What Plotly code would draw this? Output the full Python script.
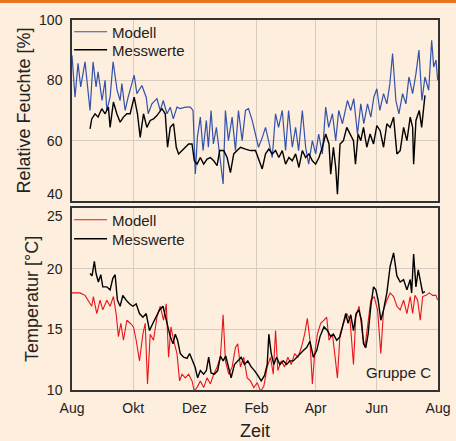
import plotly.graph_objects as go
import pandas as pd

START = pd.Timestamp("2005-08-01")

# ---- Relative Feuchte: Modell (day offset, %)
rh_mod_day = [0, 3, 6, 8.7, 13, 16, 18, 21, 24, 26, 30, 33, 34.7, 38, 41, 45, 48, 49.7, 53, 56, 62, 64.7,
              69.7, 74, 76, 79.7, 84.7, 88, 91, 94.7, 98, 101, 104.7, 108, 113, 118, 120.7, 123, 125, 128,
              130.7, 134, 136, 138.7, 141, 144, 147, 150.7, 153, 156, 159.7, 163, 166, 169.7, 173, 176,
              179.7, 183, 186, 189.7, 193, 196, 199.7, 203, 206, 209.7, 213, 216, 219.7, 223, 226, 229.7,
              233, 236, 239.7, 243, 246, 249.7, 253, 256, 259.7, 263, 266, 269.7, 274.7, 278, 281, 284.7,
              288, 291, 294.7, 298, 301, 304, 307, 310.7, 314, 317, 319.7, 323, 326, 329.7, 333, 336,
              339.7, 343, 346, 349, 352, 355.7, 358.7, 360.7, 363, 364.7]
rh_mod_val = [88.3, 74.4, 85.6, 77.8, 86.1, 76.7, 70, 86.1, 77.8, 82.8, 73.3, 80, 70, 74.4, 86.1, 76.7, 73.3,
              78.9, 70, 74.4, 81.7, 75.6, 78.3, 74.4, 68.9, 72.2, 73.9, 70, 73.3, 68.9, 71.1, 67.2, 71.1,
              70.6, 71.1, 71.1, 70, 48.9, 61, 67.8, 56.7, 66.7, 57.8, 70, 58.9, 64.4, 55.6, 45.6, 70, 60,
              67.8, 56.7, 70, 60, 70, 70.6, 66.7, 62.2, 57.8, 61, 64.4, 60, 54.4, 68.9, 64.4, 70, 56.7, 70,
              57.8, 64.4, 56.7, 70, 57.8, 52.2, 60, 55.6, 62.2, 55.6, 71.1, 64.4, 68.9, 60, 70, 65.6, 73.3,
              70, 73.9, 62.2, 72.2, 65.6, 72.2, 67.8, 74.4, 77.2, 70, 75.6, 72.2, 78.9, 88.9, 73.3, 68.9,
              75.6, 72.2, 81.1, 75.6, 82.2, 90, 73.3, 81.1, 76.7, 93.3, 84.4, 86.7, 80]

# ---- Relative Feuchte: Messwerte
rh_mes_day = [18, 19.7, 23, 26, 29.7, 33, 36.3, 38, 41.3, 44.7, 48, 51.3, 54.7, 58, 62, 65.3, 68, 71.3, 74.7,
              78, 81.3, 84.7, 89.7, 93, 95.3, 98, 101.3, 104, 106.3, 109.7, 113, 116.3, 119.7, 122, 124.7,
              128, 131.3, 134.7, 138, 141.3, 144.7, 147.3, 151.3, 154.7, 158, 161.3, 164.7, 168, 173, 178,
              183, 186.3, 189.7, 193, 196.3, 199.7, 203, 206.3, 209.7, 213, 216.3, 219.7, 223, 226.3, 229.7,
              233, 236.3, 239.7, 243, 246.3, 249.7, 253, 256.3, 258, 260.7, 263, 264.7, 267.3, 270.7, 274,
              277.3, 280.7, 282.7, 285.3, 288, 290.7, 294, 297.3, 300.7, 304, 307.3, 310.7, 314, 317.3,
              320.7, 324, 327.3, 330.7, 334, 337.3, 339.7, 340.7, 343, 346.3, 348.7, 352]
rh_mes_val = [63.9, 67.2, 68.9, 67.8, 70.6, 68.9, 71.1, 64.4, 72.8, 68.9, 66.1, 67.8, 68.9, 68.9, 74.4, 68.9,
              61.1, 68.9, 64.4, 66.7, 67.2, 68.3, 70.6, 68.9, 57.8, 64.4, 65.6, 57.8, 55.6, 56.7, 57.8, 58.9,
              58.9, 53.3, 52.2, 54.4, 52.2, 53.9, 54.4, 53.3, 51.7, 56.7, 56.7, 54.4, 49.4, 55.6, 56.7, 57.8,
              57.2, 56.7, 56.7, 53.3, 50.6, 55.6, 57.2, 55.6, 56.7, 54.4, 56.7, 52.2, 54.4, 53.3, 55.6, 51.1,
              56.7, 54.4, 55.6, 53.3, 52.2, 54.4, 57.8, 62.2, 58.9, 48.9, 57.8, 51.1, 42.2, 58.9, 60, 64.4,
              62.2, 60, 52.2, 62.2, 60, 64.4, 57.8, 62.2, 58.9, 65, 63.3, 57.8, 65.6, 64.4, 67.8, 55.6, 56.7,
              64.4, 60, 67.8, 64.4, 52.2, 66.7, 70, 64.4, 75]

# ---- Temperatur: Modell (°C)
t_mod_day = [0, 8, 13, 16, 19.7, 21.3, 24.7, 28, 30.7, 34.7, 38, 41.3, 44, 46.3, 48.7, 51.3, 54.7, 58, 61.3,
             64, 67.3, 70.7, 73, 75.3, 78, 81.3, 84.7, 88, 91.3, 94, 96.3, 98.7, 101.3, 104.7, 107.3, 109.7,
             113, 116.3, 119.7, 122, 125.3, 128, 131.3, 134.7, 138, 141.3, 144.7, 148, 150.7, 153, 156.3,
             159.7, 163, 165.3, 168, 171.3, 174.7, 178, 181.3, 184.7, 188, 191.3, 194.7, 198, 200.7, 203,
             205.3, 208.7, 212, 215.3, 218.7, 222, 225.3, 228.7, 232, 234.7, 237.3, 239.7, 242, 244.7, 248,
             251.3, 254, 256.3, 259.7, 262, 264.7, 267.3, 270.7, 274, 277.3, 280.7, 283, 286.3, 289.7, 292,
             294.7, 298, 301.3, 304.7, 308, 310.7, 314, 317.3, 320.7, 324, 327.3, 330.7, 334, 337.3, 339.7,
             342, 344.7, 347.3, 349.7, 353, 356.3, 359.7, 363, 364.7]
t_mod_val = [18, 18, 17.8, 17.4, 16.9, 17.7, 16.3, 17.4, 16.6, 17.4, 16.9, 17.7, 16.3, 14.4, 15.5, 14.1, 15.75,
             15.5, 15.2, 14.1, 12.4, 14.6, 15.5, 10.5, 14.6, 14.1, 16, 16.9, 15.75, 17.1, 12.7, 15.2, 14.1,
             13, 10.75, 11.3, 11, 11.3, 10.75, 9.9, 10.3, 10.75, 10.2, 11, 10.5, 11.3, 11.9, 12.7, 16.2,
             12.4, 11.3, 11.9, 13.5, 13.8, 11.9, 12.7, 11, 10.75, 10.2, 10.6, 9.9, 10.3, 11.9, 12.7, 11.3,
             14.9, 11.6, 12.4, 11.9, 12.7, 12.1, 13, 12.7, 13.5, 14.6, 15.9, 14.1, 10.5, 13, 14.6, 15.5,
             15.75, 16, 14.1, 14.6, 13, 11, 14.6, 15.5, 16.3, 15.75, 12.1, 16, 16.9, 14.6, 13.5, 15.2, 17.4,
             17.7, 16.6, 13, 16.6, 17.4, 18, 17.7, 16.9, 16.6, 17.4, 16.3, 17.7, 16.3, 17.8, 17.4, 15.75,
             17.7, 17.8, 18, 17.8, 17.8, 17.4]

# ---- Temperatur: Messwerte
t_mes_day = [18, 20, 22.3, 24, 26.3, 28.7, 30.7, 34.7, 38, 40.7, 43, 45.3, 48, 50.7, 54, 57.3, 60.7, 64, 67.3,
             70.7, 74, 77.3, 80.7, 84, 87.3, 90.7, 93.3, 95.3, 98, 100.7, 103, 105.3, 108, 111.3, 114.7,
             117.3, 120, 122.7, 125.3, 128, 131.3, 134, 136.3, 138.7, 142, 145.3, 148, 150.7, 153.3, 156.3,
             158.7, 162, 165.3, 168.7, 172, 175.3, 178.7, 182, 185.3, 188.7, 192, 194.7, 196.3, 198.7, 201.3,
             204, 207.3, 210.7, 214, 217.3, 220.7, 224, 227.3, 230.7, 234, 237.3, 240.7, 244, 247.3, 251.3,
             254.7, 258, 260.7, 264, 267.3, 270.7, 273, 275.3, 278, 280.7, 283.3, 286, 288.7, 290.7, 293,
             295.3, 298, 300.7, 303, 305.3, 308, 310.7, 314, 317.3, 320.7, 324, 327.3, 330.7, 334, 337.3,
             338.7, 340.7, 343, 345.3, 347.3, 349.7, 352]
t_mes_val = [19.6, 19.4, 20.6, 19.6, 18.9, 19.5, 18.5, 18.5, 18.25, 19.2, 19.5, 17.4, 16.9, 17.8, 17.4, 17.1,
             16.9, 17.1, 16.3, 16, 16.3, 14.9, 15.5, 16, 16.6, 16.9, 16, 15.2, 14.4, 13.8, 14.6, 14.1, 13,
             12.7, 12.6, 13, 12.4, 11.9, 11, 11.6, 11.3, 11.6, 12.7, 11.4, 11.3, 11.6, 12.8, 12.4, 12.8, 11.9,
             11, 12.1, 12.4, 12.7, 12.1, 12.4, 11.9, 11.6, 11.2, 10.75, 11.2, 12.1, 14.6, 13, 12.1, 12.7,
             12.1, 12.4, 12.1, 12.4, 12.4, 12.7, 13, 13.25, 13.5, 14, 12.7, 13.25, 14.4, 15.2, 14.9, 14.4,
             14.6, 14.1, 14.4, 15.5, 16.3, 15.5, 16.2, 14.9, 16.3, 16.6, 15.75, 13.8, 13.5, 14.6, 16.9, 18.5,
             18.25, 17.4, 15.75, 16.6, 18, 20.2, 21.3, 19.4, 18.9, 19.1, 18.25, 19.1, 18, 21.2, 18.5, 19.9,
             19.1, 18, 18.1]

tick_vals = ["2005-08-01", "2005-10-01", "2005-12-01", "2006-02-01", "2006-04-01", "2006-06-01", "2006-08-01"]
tick_text = ["Aug", "Okt", "Dez", "Feb", "Apr", "Jun", "Aug"]

rh_ticks = [60, 80, 100]
rh_edge_tick = 40
t_ticks = [10, 15, 20]
t_edge_tick = 25


def to_dates(days):
    return [START + pd.Timedelta(days=d) for d in days]


BG = "#fdeedd"
GRID = "#d6ccc2"
FRAME = "#333333"
FONT = "Liberation Sans, Arial, sans-serif"
TICKFONT = dict(size=14, color="#222")

fig = go.Figure()
fig.add_trace(go.Scatter(x=to_dates(rh_mod_day), y=rh_mod_val, mode="lines", name="Modell",
                         line=dict(color="#3352ab", width=1.2), xaxis="x", yaxis="y", legend="legend"))
fig.add_trace(go.Scatter(x=to_dates(rh_mes_day), y=rh_mes_val, mode="lines", name="Messwerte",
                         line=dict(color="#000000", width=1.4), xaxis="x", yaxis="y", legend="legend3"))
fig.add_trace(go.Scatter(x=to_dates(t_mod_day), y=t_mod_val, mode="lines", name="Modell",
                         line=dict(color="#e8141b", width=1.1), xaxis="x2", yaxis="y2", legend="legend2"))
fig.add_trace(go.Scatter(x=to_dates(t_mes_day), y=t_mes_val, mode="lines", name="Messwerte",
                         line=dict(color="#000000", width=1.4), xaxis="x2", yaxis="y2", legend="legend4"))

xcommon = dict(type="date", range=[tick_vals[0], tick_vals[-1]], tickvals=tick_vals, ticktext=tick_text,
               showgrid=True, gridcolor=GRID, gridwidth=1, showline=True, mirror=True, linecolor=FRAME,
               linewidth=1.5, ticks="", zeroline=False, tickfont=TICKFONT)
ycommon = dict(showgrid=True, gridcolor=GRID, gridwidth=1, showline=True, mirror=True, linecolor=FRAME,
               linewidth=1.5, ticks="", zeroline=False, tickfont=TICKFONT, ticklabelstandoff=5)

annotations = [
    dict(text="Gruppe C", xref="x2 domain", yref="y2 domain", x=0.985, y=0.04,
         xanchor="right", yanchor="bottom", showarrow=False, font=dict(size=15, color="#222")),
    dict(text=str(rh_edge_tick), xref="paper", yref="y", x=0, y=rh_edge_tick, xanchor="right",
         yanchor="middle", xshift=-7, yshift=7, showarrow=False, font=TICKFONT),
    dict(text=str(t_edge_tick), xref="paper", yref="y2", x=0, y=t_edge_tick, xanchor="right",
         yanchor="middle", xshift=-7, yshift=-8, showarrow=False, font=TICKFONT),
]


def leg(ypix):
    return dict(x=-0.008, y=(390 - ypix) / 370, xanchor="left", yanchor="middle", bgcolor="rgba(0,0,0,0)",
                font=dict(size=15), itemwidth=33)


fig.update_layout(
    width=456, height=441,
    paper_bgcolor=BG, plot_bgcolor=BG,
    font=dict(family=FONT, color="#222"),
    margin=dict(l=72, r=18, t=20, b=51, autoexpand=False),
    xaxis=dict(xcommon, domain=[0, 1], anchor="y", showticklabels=False),
    yaxis=dict(ycommon, domain=[0.511, 1], anchor="x", range=[40, 100], tickvals=rh_ticks,
               title=dict(text="Relative Feuchte [%]", font=dict(size=18), standoff=4)),
    xaxis2=dict(xcommon, domain=[0, 1], anchor="y2", matches="x", ticklabelstandoff=4,
                title=dict(text="Zeit", font=dict(size=18), standoff=10)),
    yaxis2=dict(ycommon, domain=[0, 0.492], anchor="x2", range=[10, 25], tickvals=t_ticks,
                title=dict(text="Temperatur [°C]", font=dict(size=18), standoff=4)),
    legend=leg(32),
    legend3=leg(50),
    legend2=leg(220),
    legend4=leg(239),
    showlegend=True,
    annotations=annotations,
    shapes=[dict(type="rect", xref="paper", yref="paper", x0=-0.3, x1=1.1, y0=1.0 + 17 / 370,
                 y1=1.0 + 21 / 370, fillcolor="#e8741e", line=dict(width=0), layer="above")],
)

fig.write_html("out.html", config={"displayModeBar": False},
               post_script="document.body.style.margin='0';")
